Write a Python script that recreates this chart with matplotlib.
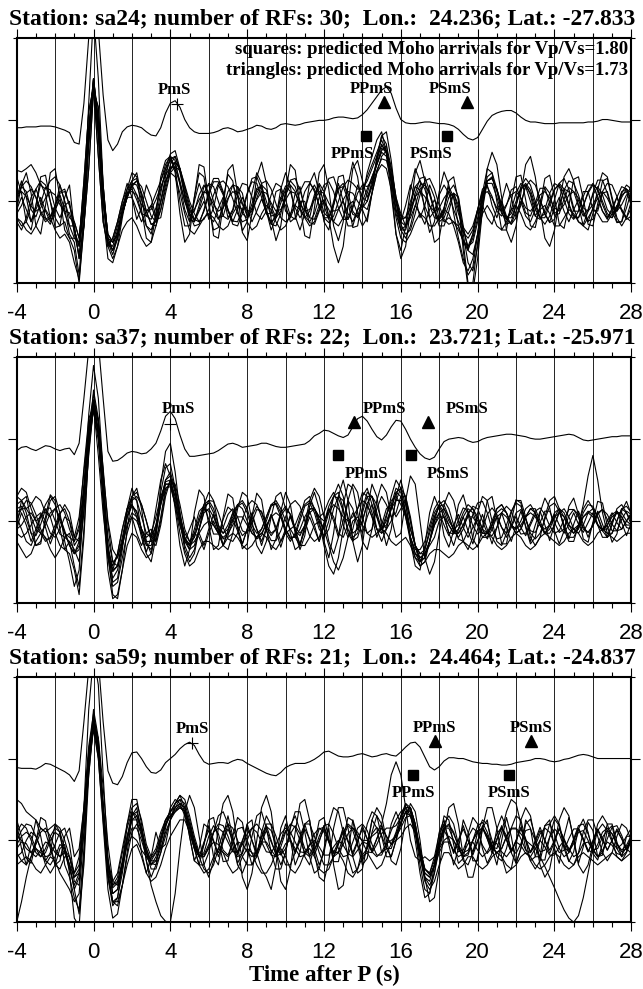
import numpy as np
import matplotlib
matplotlib.use("Agg")
import matplotlib.pyplot as plt
from matplotlib.ticker import MultipleLocator

plt.rcParams["font.family"] = "Liberation Sans"
plt.rcParams["axes.unicode_minus"] = False

# receiver functions are sampled every 0.25 s from -4 s, amplitudes in 1/100
t_start = -4.0
t_step = 0.25

stations = ["sa24", "sa37", "sa59"]
n_rfs = [30, 22, 21]
lons = ["24.236", "23.721", "24.464"]
lats = ["-27.833", "-25.971", "-24.837"]

# predicted Moho arrivals (s)
pms_time = [4.36, 3.98, 5.11]
ppms_173 = [15.13, 13.57, 17.77]   # triangles, Vp/Vs=1.73
psms_173 = [19.42, 17.39, 22.77]
ppms_180 = [14.18, 12.73, 16.64]   # squares, Vp/Vs=1.80
psms_180 = [18.43, 16.52, 21.62]

# stacked RF of each station (drawn with offset 1)
stack_sa24 = [
    -10, -10, -9, -9,  -9, -8, -8, -8,  -9, -11, -13, -16,  -28, -30, 20, 100,  148, 110, 30, -25,  -38, -30, -15, -9,  -7, -8, -10, -15,  -19, -20, -10, 8,
    20, 23, 15, 0,  -10, -15, -17, -17,  -17, -16, -14, -11,  -10, -12, -15, -14,  -12, -10, -7, -8,  -11, -12, -10, -6,  -5, -6, -7, -6,  -4, -3, -2, -1,
    -1, 0, 2, 3,  3, 2, 1, 2,  6, 12, 20, 28,  36, 40, 32, 14,  0, -4, -5, -5,  -4, -3, -3, -4,  -5, -5, -6, -8,  -12, -18, -23, -25,
    -22, -12, -2, 5,  8, 10, 11, 11,  8, 3, -1, -3,  -3, -4, -5, -5,  -5, -4, -4, -4,  -4, -4, -4, -3,  -3, -2, 0, 0,  -1, -2, -3, -3,  -3]
stack_sa37 = [
    -14, -10, -9, -12,  -14, -11, -8, -9,  -12, -14, -12, -11,  -19, -5, 50, 110,  150, 118, 50, -15,  -27, -26, -22, -17,  -15, -16, -18, -17,  -12, -5, 10, 28,
    34, 25, 5, -12,  -21, -21, -20, -19,  -18, -17, -14, -10,  -6, -5, -7, -10,  -9, -8, -7, -5,  -5, -7, -9, -10,  -10, -9, -8, -7,  -6, -2, 4, 7,
    11, 10, 7, 4,  2, 5, 15, 25,  28, 22, 12, 3,  -1, 5, 15, 23,  22, 12, 0, -10,  -18, -23, -25, -22,  -12, -3, 0, 1,  2, 1, -2, -4,
    -3, 0, 2, 3,  4, 5, 6, 6,  5, 4, 3, 1,  0, 0, 1, 2,  3, 4, 5, 6,  5, 2, -1, -2,  -1, 0, 1, 2,  3, 3, 4, 4,  4]
stack_sa59 = [
    -11, -12, -12, -12,  -13, -10, -6, -7,  -10, -13, -16, -20,  -28, -15, 45, 110,  150, 120, 45, -15,  -30, -32, -22, -5,  7, 8, 0, -10,  -17, -18, -14, -5,
    0, 5, 12, 17,  20, 16, 5, -4,  -7, -6, -5, -5,  -6, -3, -1, -2,  -6, -9, -12, -15,  -18, -20, -21, -17,  -11, -8, -6, -6,  -6, -4, -1, 3,
    8, 9, 6, 3,  2, 2, 3, 5,  6, 4, 2, 3,  5, 6, 4, 3,  8, 14, 19, 20,  14, 2, -10, -14,  -10, -3, 1, 1,  0, 0, -2, -4,
    -5, -6, -6, -7,  -7, -8, -8, -7,  -5, -4, -3, -2,  0, 0, -1, -3,  -4, -3, -1, 0,  2, 4, 5, 4,  2, 0, 0, 0,  0, 0, 0, 0,  0]

# individual RFs (a selection of the traces of each station)
rfs_sa24 = [
    [0, 18, 12, -10,  -19, -2, 17, 14,  -8, -20, -5, 0,  -40, -65, -5, 75,  145, 85, 0, -50,  -55, -35, -10, 10,  15, 2, -15, -18,  -5, 10, 25, 40,
     50, 45, 25, 0,  -18, -12, 8, 20,  10, -12, -22, -8,  12, 20, 6, -15,  -20, -3, 16, 18,  0, -18, -16, 4,  19, 12, -8, -20,  -10, 10, 20, 8,
     -14, -20, -4, 16,  18, 2, -16, -18,  0, 15, 30, 45,  60, 55, 30, 0,  -22, -20, 0, 18,  14, -6, -20, -12,  8, 20, 10, -10,  -25, -38, -45, -35,
     -10, 12, 18, 6,  -12, -18, -5, 14,  18, 4, -14, -18,  -2, 16, 16, -2,  -17, -15, 3, 17,  12, -6, -18, -10,  8, 18, 8, -10,  -17, -6, 12, 15,  2],
    [-20, -30, -25, -5,  15, 25, 20, 0,  -20, -30, -25, -45,  -45, -50, 25, 110,  140, 55, -25, -55,  -45, -25, 0, 15,  25, 28, 10, -12,  -28, -30, -10, 20,
     45, 55, 40, 10,  -15, -30, -28, -10,  12, 28, 28, 12,  -10, -28, -30, -15,  8, 28, 30, 15,  -10, -28, -30, -15,  8, 26, 28, 14,  -8, -26, -28, -12,
     10, 28, 30, 12,  -12, -30, -30, -10,  12, 30, 45, 60,  75, 60, 25, -15,  -35, -35, -15, 10,  28, 30, 12, -12,  -30, -30, -12, 10,  5, -40, -75, -85,
     -55, -10, 25, 30,  12, -12, -28, -25,  -5, 18, 28, 20,  0, -20, -28, -18,  2, 22, 28, 15,  -8, -25, -28, -12,  10, 26, 26, 10,  -12, -26, -25, -8,  12],
    [-10, 5, -10, -25,  -10, 5, -12, -25,  -10, 2, -15, -30,  -30, -70, -30, 40,  135, 115, 20, -45,  -60, -45, -15, 5,  5, -10, -25, -12,  -5, -22, -20, 10,
     35, 42, 38, 15,  -10, -25, -12, 0,  -18, -25, -8, 5,  -12, -25, -10, 5,  -10, -25, -12, 3,  -12, -28, -15, 5,  -5, -25, -20, 0,  0, -20, -22, -5,
     2, -18, -25, -10,  0, -15, -25, -10,  -5, -10, 10, 35,  55, 62, 40, 5,  -15, -30, -20, -5,  -15, -28, -10, 2,  -12, -25, -20, -25,  -35, -48, -55, -40,
     -12, -5, -20, -28,  -10, 0, -18, -28,  -12, 0, -18, -25,  -10, 2, -15, -25,  -8, 5, -12, -25,  -10, 2, -15, -25,  -8, 4, -12, -22,  -8, 5, -10, -20,  -8],
    [5, 18, 25, 18,  5, -15, -25, -20,  -5, 12, 15, -5,  -25, -45, 10, 90,  150, 100, 10, -40,  -50, -40, -15, 5,  18, 25, 18, 0,  -18, -25, -10, 15,
     38, 48, 40, 20,  0, -15, -25, -22,  -10, 8, 22, 25,  18, 3, -15, -25,  -22, -8, 10, 22,  25, 15, -3, -20,  -25, -20, -5, 12,  24, 24, 12, -5,
     -20, -26, -18, 0,  18, 26, 22, 15,  15, 25, 40, 55,  68, 62, 35, 0,  -28, -40, -35, -15,  8, 25, 28, 15,  -5, -22, -28, -25,  -30, -48, -58, -45,
     -20, 8, 25, 28,  15, -5, -22, -28,  -20, -2, 18, 26,  20, 3, -16, -26,  -22, -5, 14, 25,  22, 8, -12, -24,  -22, -8, 12, 22,  20, 6, -12, -22,  -18],
    [30, 10, -25, -35,  -5, 30, 32, 0,  -32, -30, 5, 20,  -35, -55, 0, 85,  145, 80, -15, -70,  -75, -55, -20, 10,  25, 35, 5, -30,  -40, -15, 25, 45,
     55, 40, 0, -30,  -30, 5, 35, 30,  -5, -35, -32, 3,  33, 25, -10, -36,  -25, 10, 35, 22,  -12, -35, -20, 15,  35, 18, -18, -35,  -15, 22, 35, 10,
     -25, -35, -5, 30,  32, 0, -32, -30,  5, 35, 55, 75,  85, 60, 10, -40,  -60, -30, 15, 40,  25, -12, -38, -25,  12, 36, 20, -15,  -45, -70, -90, -80,
     -40, 10, 40, 35,  0, -35, -35, 0,  30, 32, 2, -30,  -32, -5, 28, 32,  5, -28, -33, -5,  27, 30, 3, -28,  -30, -3, 25, 28,  2, -25, -25, 2,  22],
    [8, 12, 6, -6,  -12, -8, 4, 12,  8, -4, -12, -14,  -35, -55, -5, 70,  138, 80, 0, -45,  -50, -30, -5, 10,  12, 8, -4, -12,  -10, 2, 18, 32,
     42, 40, 22, 0,  -12, -10, 2, 12,  8, -4, -12, -8,  4, 12, 8, -4,  -12, -10, 2, 12,  10, -2, -12, -10,  2, 12, 10, -2,  -12, -10, 2, 12,
     10, -2, -12, -10,  2, 12, 10, 0,  -8, 0, 18, 38,  52, 50, 28, 0,  -18, -20, -8, 6,  12, 6, -6, -12,  -8, 4, 12, 5,  -15, -32, -40, -30,
     -10, 8, 12, 4,  -8, -12, -4, 8,  12, 4, -8, -12,  -4, 8, 12, 4,  -8, -12, -4, 8,  12, 4, -8, -12,  -4, 8, 12, 4,  -8, -12, -4, 8,  10],
    [-25, -35, -20, 5,  15, 0, -20, -28,  -12, 8, -10, -40,  -50, -90, -10, 120,  230, 150, 20, -50,  -65, -45, -15, 5,  20, 8, -15, -30,  -35, -20, 10, 40,
     58, 62, 40, 5,  -22, -25, -5, 18,  20, 0, -20, -18,  2, 20, 18, -2,  -18, -16, 4, 20,  14, -6, -20, -12,  8, 20, 12, -8,  -20, -12, 8, 22,
     12, -20, -55, -75,  -55, -5, 40, 50,  25, 5, 20, 50,  80, 85, 50, 0,  -35, -45, -30, -5,  15, 20, 10, -10,  -25, -20, -5, 10,  -5, -50, -100, -100,
     -50, 0, 30, 35,  15, -10, -20, -15,  0, 15, 20, 10,  -10, -20, -15, 0,  15, 20, 10, -5,  -20, -20, -5, 10,  20, 15, 0, -15,  -20, -10, 5, 15,  10],
    [-20, -25, -35, -40,  -30, -15, -10, -20,  -35, -45, -40, -50,  -75, -95, -30, 70,  150, 90, 0, -55,  -70, -55, -35, -25,  -20, -30, -45, -55,  -50, -30, 0, 25,
     35, 30, 10, -15,  -35, -40, -30, -20,  -15, -20, -30, -35,  -30, -15, -5, -10,  -25, -35, -30, -15,  -5, -10, -25, -35,  -30, -15, -5, -10,  -20, -30, -25, -10,
     0, -10, -25, -30,  -20, -5, 0, -15,  -30, -20, 10, 35,  45, 40, 15, -20,  -45, -50, -40, -25,  -15, -20, -30, -30,  -20, -10, -15, -30,  -50, -75, -85, -70,
     -40, -15, -5, -15,  -30, -35, -25, -10,  -5, -15, -30, -35,  -25, -10, -5, -15,  -30, -30, -20, -10,  -15, -25, -30, -20,  -10, -15, -25, -25,  -15, -5, -10, -20,  -25],
    [38, 36, 40, 45,  35, 20, 15, 25,  30, 20, 0, -20,  -25, -45, 10, 90,  150, 100, 10, -40,  -50, -40, -15, 5,  22, 20, 2, -18,  -22, -8, 15, 35,
     52, 55, 35, 8,  -15, -22, -10, 10,  22, 18, 0, -18,  -22, -12, 8, 22,  20, 5, -15, -22,  -12, 8, 22, 18,  2, -18, -22, -8,  12, 22, 15, -5,
     -20, -20, -4, 16,  22, 10, -12, -20,  -8, 10, 30, 45,  62, 68, 42, 5,  -25, -30, -15, 5,  20, 22, 8, -12,  -22, -15, 5, 10,  -10, -35, -55, -50,
     -25, 5, 25, 28,  15, -5, -20, -20,  -5, 15, 22, 14,  -5, -20, -20, -4,  14, 22, 15, -3,  -18, -20, -6, 12,  22, 14, -4, -18,  -20, -8, 10, 20,  15],
    [-10, 20, 35, 10,  -30, -40, -5, 35,  40, 5, -35, -45,  -60, -100, -30, 75,  150, 95, 5, -50,  -60, -40, -10, 15,  35, 30, -10, -45,  -50, -15, 30, 50,
     55, 35, -15, -50,  -40, 5, 45, 42,  0, -42, -45, -5,  38, 45, 10, -38,  -48, -15, 30, 48,  22, -22, -48, -30,  12, 45, 38, -5,  -42, -45, -8, 35,
     45, 15, -30, -48,  -25, 20, 48, 30,  -10, -25, 10, 55,  80, 70, 20, -40,  -70, -55, -10, 35,  50, 25, -20, -50,  -45, -10, 25, 30,  0, -60, -105, -110,
     -70, -10, 40, 60,  45, 5, -35, -50,  -30, 10, 45, 55,  30, -10, -45, -55,  -35, 0, 30, 40,  25, -5, -30, -35,  -15, 15, 35, 30,  5, -20, -30, -20,  0],
    [5, 25, 5, -25,  -5, 22, 8, -20,  -8, 20, 0, -30,  -45, -50, 25, 110,  140, 55, -25, -55,  -45, -25, 0, 22,  5, -22, -8, 20,  5, -20, 0, 30,
     55, 50, 20, -10,  -25, 0, 22, 5,  -22, -8, 20, 8,  -20, -10, 18, 10,  -18, -12, 15, 12,  -15, -15, 12, 15,  -12, -18, 10, 18,  -10, -20, 5, 20,
     -5, -22, 0, 22,  0, -22, -5, 20,  5, 0, 25, 50,  70, 58, 25, -10,  -25, -5, 20, 5,  -20, -5, 20, 5,  -22, -8, 18, 5,  -30, -50, -60, -40,
     -10, 15, 20, -5,  -20, 0, 22, 5,  -20, -5, 20, 8,  -18, -8, 18, 10,  -15, -10, 15, 12,  -12, -12, 12, 12,  -10, -12, 10, 12,  -8, -12, 8, 12,  -5],
    [-15, -5, 10, 15,  5, -12, -22, -18,  -5, 10, 12, -5,  -30, -70, -30, 40,  135, 115, 20, -45,  -60, -45, -15, 5,  20, 25, 10, -12,  -28, -25, 0, 25,
     40, 48, 40, 18,  -5, -22, -25, -12,  8, 24, 24, 10,  -10, -24, -25, -10,  10, 24, 22, 5,  -15, -25, -20, -2,  15, 25, 18, 0,  -18, -25, -15, 5,
     20, 24, 12, -8,  -22, -22, -8, 10,  20, 18, 25, 45,  65, 60, 30, -10,  -35, -30, -5, 18,  25, 15, -5, -20,  -22, -8, 12, 20,  5, -30, -60, -65,
     -40, 0, 22, 22,  5, -15, -22, -10,  10, 22, 18, 0,  -18, -22, -10, 10,  22, 18, 2, -15,  -22, -12, 6, 20,  20, 5, -12, -20,  -12, 5, 18, 15,  0],
]

rfs_sa37 = [
    [-10, -5, 5, 10,  0, -15, -25, -20,  -5, 10, 15, 0,  -30, -20, 40, 110,  148, 110, 35, -40,  -70, -60, -30, 5,  20, 10, -10, -25,  -25, -5, 25, 50,
     55, 35, 5, -20,  -30, -20, 0, 15,  12, -5, -15, -8,  8, 15, 5, -12,  -15, -2, 14, 12,  -5, -15, -10, 6,  15, 8, -8, -15,  -6, 10, 15, 2,
     -10, 10, 30, 35,  15, -15, -25, -5,  30, 40, 20, -10,  -25, -10, 20, 40,  35, 10, -20, -40,  -45, -40, -25, -5,  10, 15, 5, -10,  -15, -5, 10, 15,
     5, -10, -15, -5,  10, 15, 10, -5,  -15, -10, 5, 15,  10, -5, -15, -10,  5, 15, 10, -5,  -15, -10, 5, 12,  8, -5, -12, -5,  8, 12, 5, -8,  -10],
    [20, 25, 10, -15,  -30, -25, 0, 25,  30, 10, -25, -50,  -80, -60, 30, 130,  190, 150, 60, -40,  -90, -95, -60, -10,  30, 40, 15, -25,  -40, -10, 35, 65,
     70, 40, 0, -35,  -50, -40, -10, 20,  35, 25, -5, -30,  -35, -15, 15, 35,  30, 0, -30, -40,  -25, 5, 30, 35,  15, -15, -35, -30,  -5, 25, 40, 30,
     5, -25, -40, -20,  20, 45, 40, 10,  -25, -35, -10, 25,  45, 35, 5, -20,  -15, 25, 55, 45,  0, -45, -65, -50,  -15, 20, 35, 25,  0, -25, -35, -20,
     10, 30, 25, 0,  -25, -30, -15, 10,  25, 25, 5, -20,  -30, -20, 5, 25,  30, 15, -10, -25,  -25, -5, 15, 25,  15, -5, -20, -20,  -5, 15, 20, 10,  -5],
    [-25, -35, -45, -40,  -25, -15, -20, -35,  -45, -35, -20, -25,  -55, -80, -10, 85,  140, 105, 20, -60,  -95, -90, -60, -30,  -15, -20, -35, -45,  -40, -15, 20, 45,
     45, 20, -15, -40,  -55, -50, -35, -25,  -25, -30, -35, -30,  -20, -15, -20, -30,  -35, -30, -20, -15,  -20, -30, -35, -25,  -15, -10, -20, -30,  -30, -20, -5, 0,
     -10, -30, -50, -60,  -45, -20, 0, 5,  -5, -15, -20, -15,  -10, -15, -25, -30,  -25, -20, -30, -45,  -55, -50, -40, -35,  -35, -40, -45, -40,  -30, -25, -30, -35,
     -30, -20, -15, -20,  -30, -35, -30, -20,  -15, -20, -30, -35,  -30, -20, -15, -20,  -25, -30, -25, -15,  -10, -15, -25, -30,  -25, -15, -10, -15,  -20, -25, -20, -15,  -15],
    [10, 15, 15, 5,  -10, -15, -5, 10,  15, 5, -15, -30,  -40, -25, 35, 105,  145, 105, 30, -35,  -55, -40, -10, 15,  20, 5, -20, -40,  -50, -20, 45, 85,
     95, 60, 10, -30,  -45, -35, -10, 10,  15, 5, -10, -15,  -5, 10, 20, 15,  0, -15, -20, -10,  5, 20, 20, 5,  -15, -25, -15, 5,  25, 30, 15, -5,
     -20, -10, 15, 30,  25, 5, -15, -10,  15, 35, 30, 5,  -15, -10, 15, 35,  30, 5, -25, -45,  -50, -35, -10, 10,  20, 10, -5, -15,  -10, 5, 15, 10,
     -5, -20, -20, -5,  15, 20, 10, -5,  -15, -10, 5, 15,  15, 0, -15, -15,  -5, 10, 15, 5,  -10, -15, -5, 10,  15, 5, -10, -10,  0, 10, 10, 0,  -5],
    [30, 25, 15, 20,  30, 25, 10, 5,  15, 20, 10, -10,  -25, -10, 45, 115,  155, 120, 45, -20,  -50, -45, -20, 10,  30, 25, 5, -15,  -20, -5, 20, 40,
     45, 30, 5, -15,  -25, -15, 5, 20,  25, 15, -5, -15,  -10, 5, 20, 25,  15, -5, -15, -10,  5, 20, 25, 15,  0, -10, -5, 10,  20, 25, 15, 5,
     10, 25, 35, 20,  -5, -20, -10, 15,  35, 30, 10, -10,  -15, 5, 30, 50,  40, 10, -20, -35,  -35, -25, -5, 15,  25, 15, 0, -10,  -5, 10, 20, 15,
     0, -15, -15, 0,  15, 20, 10, -5,  -10, 0, 15, 20,  10, -5, -15, -5,  10, 15, 5, -10,  -15, -5, 20, 55,  80, 50, 10, -15,  -15, 0, 15, 10,  0],
    [-5, 25, 30, 0,  -30, -28, 5, 32,  25, -10, -35, -40,  -60, -90, -20, 90,  160, 125, 45, -30,  -75, -70, -35, 15,  40, 25, -15, -38,  -20, 15, 50, 70,
     55, 15, -30, -55,  -35, 10, 38, 30,  -5, -35, -30, 5,  33, 28, -8, -34,  -28, 6, 34, 26,  -10, -35, -22, 12,  35, 20, -15, -35,  -18, 18, 35, 15,
     -25, -45, -15, 30,  50, 25, -25, -50,  -30, 15, 45, 30,  -5, -30, -10, 30,  50, 25, -25, -55,  -60, -30, 10, 30,  15, -18, -32, -12,  20, 32, 10, -22,
     -32, -8, 25, 30,  2, -28, -28, 0,  26, 22, -8, -28,  -20, 10, 28, 16,  -12, -28, -12, 18,  28, 8, -22, -26,  -2, 24, 22, -6,  -26, -16, 12, 24,  8],
    [-15, -20, -15, -5,  5, 10, 0, -15,  -20, -10, 5, 0,  -20, -25, 30, 100,  142, 108, 38, -30,  -60, -55, -30, -5,  10, 5, -10, -20,  -15, 5, 30, 45,
     45, 25, -5, -25,  -30, -25, -15, -5,  0, -5, -15, -20,  -15, -5, 5, 5,  -5, -15, -20, -15,  -5, 5, 10, 5,  -10, -20, -20, -10,  5, 15, 15, 5,
     0, 10, 20, 15,  5, 0, 5, 15,  25, 20, 5, -10,  -10, 0, 15, 25,  25, 10, -10, -30,  -40, -40, -25, -5,  5, 5, -5, -15,  -15, -5, 5, 5,
     -5, -15, -15, -5,  5, 10, 5, -5,  -10, -5, 5, 10,  5, -5, -10, -5,  5, 10, 5, -5,  -10, -5, 5, 10,  5, -5, -10, -5,  5, 10, 5, -5,  -5],
    [5, -10, -25, -30,  -15, 5, 15, 5,  -15, -30, -35, -25,  -35, -50, 15, 95,  135, 98, 30, -45,  -80, -75, -45, -15,  5, 0, -15, -30,  -30, -10, 25, 48,
     50, 30, 0, -25,  -35, -15, -20, -35,  -15, 0, -15, -30,  -12, 2, -12, -28,  -10, 5, -10, -25,  -8, 8, -8, -25,  -10, 5, -12, -28,  -12, 5, -10, -25,
     -5, 15, 5, -15,  -20, -5, 10, 0,  -15, 5, 20, 5,  -10, 8, 25, 30,  20, 5, -20, -40,  -50, -45, -25, 0,  10, -5, -18, -5,  8, -8, -20, -8,
     5, -10, -22, -10,  5, -8, -20, -8,  6, -8, -18, -5,  8, -5, -16, -5,  8, -5, -15, -4,  10, -4, -14, -2,  10, -4, -12, 0,  10, -2, -10, 0,  8],
    [30, 40, 35, 15,  0, 5, 20, 30,  20, 0, -15, -20,  -25, -5, 65, 125,  140, 80, 10, -45,  -60, -40, -10, 15,  30, 35, 20, 0,  -20, -25, 0, 35,
     50, 45, 20, -10,  -25, -20, 0, 18,  22, 10, -10, -22,  -18, 0, 18, 22,  10, -10, -22, -18,  0, 18, 22, 10,  -10, -22, -18, 0,  18, 22, 10, -10,
     -18, 0, 30, 45,  30, 0, -20, -15,  10, 30, 30, 10,  -10, -5, 15, 35,  40, 20, -10, -30,  -40, -35, -15, 5,  18, 20, 5, -12,  -20, -10, 8, 18,
     15, 0, -15, -18,  -8, 10, 18, 12,  -4, -16, -15, -2,  12, 16, 8, -6,  -15, -12, 2, 14,  14, 4, -10, -14,  -6, 8, 14, 8,  -4, -12, -10, 0,  10],
    [-10, 10, -5, -25,  -10, 8, -8, -28,  -12, 5, -12, -30,  -40, -35, 10, 80,  140, 125, 65, -5,  -50, -55, -30, -5,  5, -15, -30, -15,  -10, -25, 5, 40,
     42, 20, -5, -25,  -10, 5, -15, -30,  -10, 8, -12, -30,  -12, 10, -8, -28,  -10, 10, -10, -30,  -10, 8, -12, -32,  -12, 8, -10, -30,  -8, 12, -5, -25,
     -5, 15, 0, -20,  0, 25, 15, -10,  0, 20, 5, -20,  -5, 15, 20, 5,  15, 25, 0, -30,  -45, -40, -30, -20,  0, 5, -15, -30,  -10, 5, -12, -28,
     -10, 8, -10, -28,  -8, 10, -8, -25,  -6, 12, -6, -25,  -5, 12, -5, -24,  -5, 12, -5, -22,  -4, 12, -4, -20,  -3, 12, -4, -20,  -2, 12, -2, -18,  -2],
    [0, 15, 25, 22,  8, -10, -22, -22,  -10, 8, 20, 10,  -20, 5, 60, 115,  148, 120, 60, 0,  -35, -45, -25, 5,  25, 30, 20, 0,  -25, -30, -5, 30,
     50, 40, 10, -20,  -35, -30, -10, 12,  25, 24, 10, -8,  -22, -25, -15, 2,  18, 25, 20, 5,  -12, -24, -24, -12,  5, 20, 25, 18,  0, -18, -25, -20,
     -2, 18, 30, 28,  12, -10, -24, -20,  0, 22, 30, 20,  0, -10, 0, 25,  40, 30, 0, -30,  -48, -45, -25, 0,  20, 25, 15, -5,  -22, -25, -12, 8,
     22, 24, 10, -10,  -22, -20, -5, 12,  22, 18, 2, -15,  -22, -15, 2, 18,  22, 12, -6, -20,  -20, -8, 10, 20,  18, 5, -12, -20,  -15, 0, 15, 18,  10],
    [15, 18, 2, -15,  -18, -4, 14, 16,  0, -16, -20, -15,  -40, -30, 35, 108,  145, 108, 38, -35,  -62, -55, -25, 5,  18, 12, -10, -28,  -35, -15, 22, 50,
     60, 38, 5, -22,  -28, -10, 12, 18,  2, -16, -16, 2,  17, 12, -6, -18,  -12, 6, 18, 10,  -8, -18, -10, 10,  18, 8, -12, -18,  -5, 14, 16, 0,
     -30, -55, -65, -45,  -10, 25, 45, 35,  5, -15, -10, 15,  30, 20, 5, 10,  30, 30, 5, -30,  -55, -50, -25, 5,  18, 5, -14, -16,  2, 16, 12, -6,
     -16, -10, 8, 16,  8, -8, -15, -6,  10, 14, 2, -12,  -14, -2, 12, 12,  -2, -14, -10, 6,  14, 8, -8, -14,  -6, 10, 14, 2,  -12, -12, 2, 12,  8],
]

rfs_sa59 = [
    [-5, 5, 10, 5,  -10, -20, -15, 0,  10, 5, -15, -35,  -55, -40, 30, 110,  150, 115, 40, -30,  -55, -50, -25, 5,  25, 25, 5, -15,  -25, -15, 5, 25,
     35, 40, 45, 40,  20, -5, -20, -15,  5, 18, 8, -12,  -18, -4, 14, 16,  0, -16, -15, 3,  17, 12, -6, -18,  -10, 8, 18, 8,  -10, -18, -5, 14,
     16, 0, -16, -14,  4, 18, 12, -6,  -18, -10, 8, 16,  6, -10, -10, 8,  22, 34, 30, 10,  -15, -35, -40, -25,  0, 15, 15, 0,  -14, -12, 4, 15,
     10, -6, -16, -8,  8, 16, 6, -10,  -16, -4, 12, 14,  0, -14, -12, 4,  14, 8, -8, -14,  -4, 10, 12, 0,  -12, -10, 4, 12,  8, -4, -12, -6,  6],
    [50, 45, 35, 30,  25, 15, 10, 15,  20, 15, 0, -20,  -40, -20, 40, 115,  155, 120, 45, -25,  -50, -40, -10, 20,  40, 45, 25, -5,  -20, -10, 10, 25,
     30, 35, 45, 40,  20, -5, -20, -5,  18, 0, -20, -2,  20, 2, -18, -2,  20, 0, -20, -4,  18, 0, -18, -2,  20, 2, -16, 0,  20, 0, -18, -2,
     18, -2, -20, -4,  16, 0, -18, -2,  18, 2, -14, 2,  18, 5, -5, 10,  30, 40, 40, 20,  -10, -35, -40, -20,  8, 20, 2, -16,  0, 18, 0, -18,
     -2, 18, 2, -16,  0, 18, 2, -15,  0, 16, 2, -15,  0, 16, 0, -16,  -2, 15, 0, -15,  0, 15, 2, -14,  0, 14, 2, -12,  0, 14, 2, -12,  0],
    [-20, -15, 0, 10,  5, -10, -30, -40,  -30, -10, -5, -40,  -95, -105, -20, 95,  160, 125, 40, -45,  -80, -70, -30, 20,  50, 50, 20, -25,  -55, -75, -92, -99,
     -100, -65, -10, 35,  55, 40, 5, -30,  -45, -25, 15, 45,  55, 35, -5, -45,  -60, -40, 0, 40,  55, 35, -10, -50,  -60, -35, 10, 45,  50, 25, -15, -45,
     -50, -25, 15, 40,  40, 15, -20, -40,  -35, -5, 25, 40,  30, 0, -25, -30,  -10, 25, 45, 35,  0, -45, -75, -70,  -35, 10, 40, 45,  20, -20, -45, -45,
     -20, 15, 40, 40,  15, -20, -40, -35,  -5, 25, 40, 30,  0, -30, -45, -35,  -5, 25, 40, 30,  0, -30, -40, -30,  -5, 20, 30, 20,  0, -20, -25, -15,  0],
    [-100, -75, -45, -20,  -10, -15, -25, -30,  -20, -5, -10, -30,  -60, -90, -30, 80,  145, 112, 35, -40,  -75, -80, -55, -20,  10, 20, 10, -10,  -25, -25, -10, 10,
     25, 35, 40, 35,  20, 0, -20, -35,  -40, -30, -10, 10,  20, 15, 0, -20,  -30, -30, -15, 5,  20, 20, 5, -15,  -30, -30, -15, 5,  20, 20, 5, -15,
     -30, -30, -20, -5,  10, 20, 15, 5,  0, 0, 5, 10,  20, 45, 80, 96,  80, 40, 0, -20,  -25, -20, -25, -20,  -10, 0, 5, 0,  -10, -20, -15, 0,
     10, 15, 5, -10,  -15, -10, 5, 15,  15, 8, 0, -5,  -10, -20, -32, -45,  -58, -72, -85, -95,  -100, -92, -70, -40,  -10, 12, 20, 12,  -2, -10, -5, 5,  5],
    [5, 0, -10, -15,  -5, 10, 15, 5,  -10, -20, -15, -30,  -60, -45, 30, 105,  148, 112, 38, -35,  -65, -60, -35, -5,  15, 15, 0, -20,  -30, -25, -5, 20,
     35, 45, 55, 50,  30, 5, -15, -18,  -5, 10, 15, 10,  -2, -14, -15, -5,  8, 15, 10, -2,  -14, -15, -5, 8,  15, 10, -2, -14,  -15, -5, 8, 15,
     10, -2, -14, -15,  -5, 8, 15, 10,  -2, -14, -15, -5,  8, 15, 15, 18,  28, 40, 40, 20,  -15, -40, -45, -30,  -5, 15, 18, 8,  -6, -15, -12, 0,
     12, 15, 6, -8,  -15, -10, 4, 14,  14, 2, -12, -15,  -6, 8, 15, 10,  -4, -15, -12, 2,  14, 14, 2, -12,  -15, -5, 10, 15,  8, -5, -14, -10,  4],
    [-15, -25, -30, -20,  0, 15, 10, -10,  -30, -35, -20, -20,  -50, -55, 40, 160,  225, 190, 80, -20,  -65, -60, -30, 5,  30, 35, 15, -15,  -35, -35, -15, 15,
     40, 50, 45, 30,  10, -10, -20, -2,  12, -2, -15, 0,  14, 0, -14, 0,  15, 0, -15, -2,  12, -2, -16, -2,  12, 0, -14, 0,  14, 2, -12, 0,
     14, 0, -15, -2,  12, -2, -15, 0,  14, 2, -12, 2,  15, 5, -5, 5,  20, 35, 40, 20,  -15, -45, -55, -40,  -10, 12, 2, -14,  0, 14, 0, -14,
     0, 15, 2, -12,  2, 15, 0, -14,  0, 14, 0, -14,  -2, 12, 0, -12,  0, 14, 2, -12,  0, 14, 0, -14,  -2, 12, 0, -12,  0, 12, 2, -10,  0],
    [-30, -25, -20, -25,  -35, -40, -30, -20,  -25, -40, -50, -60,  -75, -65, 10, 90,  135, 100, 25, -45,  -75, -75, -55, -30,  -10, -5, -20, -40,  -50, -45, -30, -10,
     5, 15, 25, 25,  10, -10, -30, -40,  -35, -20, -10, -15,  -30, -40, -35, -20,  -10, -15, -30, -40,  -40, -30, -15, -10,  -20, -35, -40, -30,  -15, -10, -20, -35,
     -40, -35, -20, -15,  -25, -40, -45, -35,  -20, -15, -25, -35,  -30, -15, -5, 0,  5, 15, 20, 10,  -20, -50, -60, -50,  -30, -15, -15, -25,  -35, -30, -20, -20,
     -30, -35, -30, -20,  -15, -20, -30, -35,  -30, -20, -15, -20,  -30, -35, -30, -20,  -15, -20, -30, -35,  -30, -20, -15, -20,  -25, -30, -25, -20,  -15, -20, -25, -20,  -15],
    [10, 20, 15, 0,  -15, -20, -10, 5,  15, 10, -10, -30,  -45, -35, 30, 105,  145, 110, 40, -30,  -55, -45, -15, 15,  35, 30, 10, -15,  -30, -20, 0, 20,
     30, 35, 40, 35,  15, -10, -30, -30,  -15, 10, 30, 35,  20, -5, -30, -40,  -25, 5, 30, 35,  15, -15, -35, -35,  -15, 15, 35, 35,  10, -20, -40, -35,
     -10, 20, 40, 35,  10, -20, -40, -35,  -10, 20, 35, 30,  5, -20, -20, 0,  20, 35, 35, 15,  -15, -40, -45, -30,  -5, 20, 30, 20,  -5, -25, -30, -15,
     10, 25, 20, 0,  -20, -25, -10, 15,  30, 25, 0, -25,  -35, -25, 0, 20,  30, 20, -5, -25,  -30, -15, 10, 25,  25, 5, -15, -25,  -15, 5, 20, 15,  0],
    [25, 5, -22, -28,  -2, 28, 24, -5,  -30, -25, 5, 15,  -20, -10, 40, 105,  142, 100, 20, -60,  -95, -90, -55, -15,  30, 40, 10, -25,  -45, -30, 0, 25,
     35, 45, 50, 35,  5, -25, -30, -5,  25, 28, 0, -26,  -25, 5, 28, 22,  -8, -30, -20, 10,  30, 18, -14, -30,  -15, 18, 30, 12,  -20, -30, -6, 24,
     28, 2, -26, -26,  2, 28, 24, -6,  -30, -22, 10, 30,  20, -10, -20, 0,  30, 45, 40, 10,  -30, -60, -65, -40,  0, 30, 25, -5,  -28, -22, 8, 28,
     20, -10, -28, -16,  14, 30, 15, -15,  -28, -10, 20, 26,  4, -24, -24, 4,  26, 18, -10, -26,  -14, 14, 26, 10,  -16, -24, -4, 20,  20, -2, -20, -14,  6],
    [0, 12, 20, 18,  5, -10, -20, -18,  -5, 10, 15, -5,  -45, -40, 10, 80,  140, 125, 65, -5,  -50, -55, -30, 0,  25, 30, 15, -10,  -28, -30, -15, 5,
     25, 40, 50, 45,  25, 0, -18, -20,  -8, 10, 20, 18,  5, -12, -20, -16,  0, 15, 20, 12,  -5, -18, -20, -8,  10, 20, 16, 0,  -15, -20, -12, 5,
     18, 20, 8, -10,  -20, -18, -2, 15,  20, 12, -5, -18,  -18, -5, 12, 25,  35, 40, 30, 8,  -20, -45, -50, -30,  -5, 15, 20, 10,  -8, -20, -18, 0,
     18, 22, 10, -8,  -10, 10, 35, 50,  45, 20, -10, -25,  -20, 0, 18, 20,  8, -10, -20, -15,  2, 18, 20, 8,  -10, -20, -15, 2,  16, 18, 6, -10,  -16],
    [-10, -2, -4, -15,  -20, -12, -2, -5,  -15, -20, -12, -20,  -40, -30, 30, 102,  142, 108, 38, -32,  -58, -52, -28, -5,  5, 0, -12, -20,  -22, -14, 2, 18,
     30, 38, 42, 35,  15, -8, -20, -20,  -10, -2, -5, -15,  -20, -12, -2, -4,  -14, -20, -14, -2,  -2, -12, -20, -16,  -4, 0, -10, -20,  -18, -6, 0, -8,
     -18, -18, -8, 0,  -6, -16, -20, -12,  -2, -4, -14, -20,  -14, -4, 0, 5,  15, 28, 30, 15,  -10, -35, -42, -32,  -15, -2, -2, -12,  -20, -16, -4, -2,
     -12, -20, -14, -2,  -4, -14, -20, -12,  -2, -6, -16, -20,  -10, 0, -8, -18,  -18, -8, 0, -10,  -20, -16, -4, -2,  -12, -20, -12, -2,  -6, -16, -18, -8,  -2],
    [20, -10, -30, -5,  25, 5, -25, -15,  20, 10, -30, -45,  -70, -85, -10, 90,  150, 118, 42, -40,  -75, -70, -40, 0,  35, 25, -15, -40,  -20, 10, -10, -5,
     25, 45, 55, 40,  5, -25, -10, 20,  15, -20, -30, 5,  30, 5, -28, -15,  20, 25, -15, -35,  -45, -60, -30, 15,  30, 0, -30, -15,  20, 25, -10, -30,
     -15, 15, -30, -60,  -55, -15, 25, 5,  -25, -10, 25, 15,  -15, -10, 20, 35,  20, 45, 35, 0,  -40, -70, -65, -30,  10, 25, -5, -30,  -10, 25, 10, -25,
     -25, 15, 25, -10,  -30, 0, 28, 5,  -28, -10, 25, 15,  -20, -20, 18, 25,  -10, -28, 5, 28,  2, -28, -8, 22,  12, -20, -18, 12,  18, -10, -20, 5,  15],
]

stacks = [stack_sa24, stack_sa37, stack_sa59]
rf_sets = [rfs_sa24, rfs_sa37, rfs_sa59]

for name, s in zip(stations, stacks):
    if len(s) != 129:
        raise ValueError("stack %s has %d samples" % (name, len(s)))
for name, rs in zip(stations, rf_sets):
    for i, r in enumerate(rs):
        if len(r) != 129:
            raise ValueError("rf %s #%d has %d samples" % (name, i, len(r)))

# page layout in pixels
W, H = 643.0, 989.0
ax_left, ax_right = 16.7, 631.3
ax_tops = [37.7, 357.3, 676.7]
ax_h = 245.5

# where the phase names were written in each panel (s)
pms_label_x = [4.2, 4.42, 5.14]
upper_label_x = [(14.45, 18.56), (15.16, 19.44), (17.77, 22.77)]
lower_label_x = [(13.5, 17.6), (14.2, 18.46), (16.64, 21.62)]

serif = "Liberation Serif"

fig = plt.figure(figsize=(W / 100, H / 100), dpi=100)

for k in range(3):
    ax = fig.add_axes([ax_left / W, 1 - (ax_tops[k] + ax_h) / H,
                       (ax_right - ax_left) / W, ax_h / H])
    t = t_start + t_step * np.arange(len(stacks[k]))

    for g in np.arange(-2, 28, 2):
        ax.axvline(g, color="k", lw=0.6, zorder=1)

    for rf in rf_sets[k]:
        ax.plot(t, np.asarray(rf) / 100.0, color="k", lw=0.8, zorder=2)
    ax.plot(t, 1.0 + np.asarray(stacks[k]) / 100.0, color="k", lw=0.8, zorder=3)

    ax.set_xlim(-4, 28)
    ax.set_ylim(-1, 2)

    # phase markers
    ax.plot([pms_time[k]], [1.19], marker="+", ms=9, mew=0.8, color="k", zorder=5)
    ax.plot([ppms_173[k], psms_173[k]], [1.21, 1.21], ls="none", marker="^",
            ms=8, color="k", zorder=5)
    ax.plot([ppms_180[k], psms_180[k]], [0.80, 0.80], ls="none", marker="s",
            ms=6.5, color="k", zorder=5)

    lab = dict(family=serif, fontweight="bold", fontsize=12, ha="center",
               va="baseline", zorder=6)
    ax.text(pms_label_x[k], 1.315, "PmS", **lab)
    ax.text(upper_label_x[k][0], 1.325, "PPmS", **lab)
    ax.text(upper_label_x[k][1], 1.325, "PSmS", **lab)
    ax.text(lower_label_x[k][0], 0.527, "PPmS", **lab)
    ax.text(lower_label_x[k][1], 0.527, "PSmS", **lab)

    if k == 0:
        note = dict(family=serif, fontweight="bold", fontsize=13.5, ha="right",
                    va="baseline", zorder=6)
        ax.text(27.84, 1.80, "squares: predicted Moho arrivals for Vp/Vs=1.80", **note)
        ax.text(27.84, 1.544, "triangles: predicted Moho arrivals for Vp/Vs=1.73", **note)

    # axes frame and ticks
    for sp in ax.spines.values():
        sp.set_linewidth(1.5)
    ax.xaxis.set_major_locator(MultipleLocator(4))
    ax.xaxis.set_minor_locator(MultipleLocator(1))
    ax.set_yticks([0, 1])
    ax.set_yticks([-1, 2], minor=True)
    ax.tick_params(axis="both", which="both", direction="out", top=True,
                   bottom=True, left=True, right=True, labelleft=False, width=0.8)
    ax.tick_params(axis="x", which="major", length=6.5, labelsize=16, pad=8)
    ax.tick_params(axis="x", which="minor", length=3.4)
    ax.tick_params(axis="y", which="major", length=6.5)
    ax.tick_params(axis="y", which="minor", length=3)

    title = "Station: %s; number of RFs: %d;  Lon.:  %s; Lat.: %s" % (
        stations[k], n_rfs[k], lons[k], lats[k])
    fig.text(9.3 / W, 1 - (ax_tops[k] - 13.7) / H, title, family=serif,
             fontweight="bold", fontsize=17, ha="left", va="baseline")

fig.text((ax_left + ax_right) / 2 / W, 1 - 980.7 / H, "Time after P (s)",
         family=serif, fontweight="bold", fontsize=16.5, ha="center", va="baseline")

fig.savefig("out.png", dpi=100)
